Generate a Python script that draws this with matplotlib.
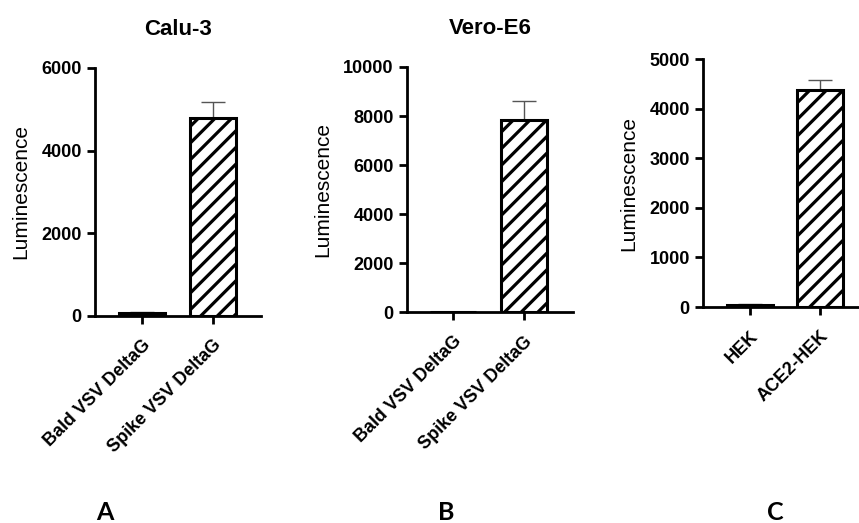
import matplotlib
matplotlib.use("Agg")
import matplotlib.pyplot as plt

plt.rcParams['font.family'] = ['Liberation Sans', 'DejaVu Sans']
plt.rcParams['hatch.linewidth'] = 2.3

# data
labels_a = ['Bald VSV DeltaG', 'Spike VSV DeltaG']
values_a = [70, 4780]
errors_a = [35, 390]

labels_b = ['Bald VSV DeltaG', 'Spike VSV DeltaG']
values_b = [0, 7830]
errors_b = [0, 770]

labels_c = ['HEK', 'ACE2-HEK']
values_c = [45, 4380]
errors_c = [25, 200]

panels = [
    # labels, values, errors, ymax, ystep, title, letter, axes rect, xlim, letter x
    (labels_a, values_a, errors_a, 6000, 2000, 'Calu-3', 'A', [0.1106, 0.396, 0.193, 0.474], (-0.66, 1.68), 0.122),
    (labels_b, values_b, errors_b, 10000, 2000, 'Vero-E6', 'B', [0.4738, 0.4034, 0.193, 0.4685], (-0.65, 1.69), 0.519),
    (labels_c, values_c, errors_c, 5000, 1000, '', 'C', [0.8184, 0.413, 0.1816, 0.474], (-0.67, 1.56), 0.902),
]

fig = plt.figure(figsize=(8.59, 5.23), dpi=100)

for labels, vals, errs, ymax, ystep, title, letter, rect, xl, lx in panels:
    ax = fig.add_axes(rect)
    x = list(range(len(labels)))
    ax.bar(x, vals, width=0.65, color='white', edgecolor='black', linewidth=2.2,
           hatch=['', '//'], zorder=2)
    ax.errorbar(x, vals, yerr=[[0] * len(errs), errs], fmt='none', ecolor='#555555',
                elinewidth=1.0, capsize=8.5, capthick=1.0, zorder=1)
    ax.set_xlim(*xl)
    ax.set_ylim(0, ymax)
    ax.set_yticks(range(0, ymax + 1, ystep))
    ax.set_xticks(x)
    ax.set_xticklabels(labels, rotation=45, ha='right', rotation_mode='anchor',
                       fontsize=13, fontweight='bold')
    for t in ax.get_yticklabels():
        t.set_fontweight('bold')
        t.set_fontsize(13)
    ax.spines['top'].set_visible(False)
    ax.spines['right'].set_visible(False)
    ax.spines['left'].set_linewidth(2)
    ax.spines['bottom'].set_linewidth(2)
    ax.spines['bottom'].set_zorder(3)
    ax.tick_params(axis='both', direction='out', length=6, width=2)
    ax.tick_params(axis='x', pad=9)
    ax.set_ylabel('Luminescence', fontsize=15, labelpad=8)
    if title:
        ax.set_title(title, fontsize=16, fontweight='bold', pad=24)
    fig.text(lx, 0.006, letter, fontsize=18, fontweight='bold', family=['Lato', 'DejaVu Sans'],
             ha='center', va='baseline')

fig.savefig('out.png', dpi=100)
